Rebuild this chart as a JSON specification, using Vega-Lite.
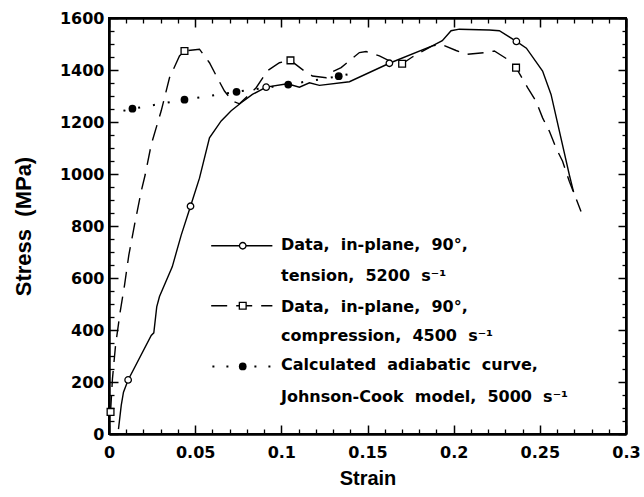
{
  "$schema": "https://vega.github.io/schema/vega-lite/v6.json",
  "width": 517,
  "height": 416,
  "padding": {"left": 12, "top": 10, "right": 4, "bottom": 5},
  "config": {
    "view": {"stroke": "#000", "strokeWidth": 2}
  },
  "data": {"values": [
      {"x": 0.0055, "y": 19}, {"x": 0.0071, "y": 110}, {"x": 0.0084, "y": 161}, {"x": 0.0111, "y": 208},
      {"x": 0.0245, "y": 379}, {"x": 0.026, "y": 389}, {"x": 0.0277, "y": 489}, {"x": 0.0293, "y": 529},
      {"x": 0.0367, "y": 643}, {"x": 0.0419, "y": 765}, {"x": 0.0473, "y": 876}, {"x": 0.0525, "y": 984},
      {"x": 0.0583, "y": 1139}, {"x": 0.0651, "y": 1204}, {"x": 0.0709, "y": 1243}, {"x": 0.0767, "y": 1274},
      {"x": 0.0832, "y": 1306}, {"x": 0.0912, "y": 1334}, {"x": 0.1035, "y": 1347}, {"x": 0.1105, "y": 1334},
      {"x": 0.1163, "y": 1351}, {"x": 0.1221, "y": 1341}, {"x": 0.1395, "y": 1355}, {"x": 0.1627, "y": 1426},
      {"x": 0.1876, "y": 1493}, {"x": 0.1934, "y": 1513}, {"x": 0.1985, "y": 1551}, {"x": 0.2033, "y": 1557},
      {"x": 0.2207, "y": 1554}, {"x": 0.2265, "y": 1551}, {"x": 0.2364, "y": 1510}, {"x": 0.2422, "y": 1484},
      {"x": 0.2516, "y": 1396}, {"x": 0.2565, "y": 1306}, {"x": 0.2671, "y": 997}, {"x": 0.2696, "y": 930}
  ]},
  "layer": [
    {
      "mark": {"type": "point", "opacity": 0},
      "encoding": {
        "x": {"field": "x", "type": "quantitative", "scale": {"domain": [0, 0.3], "nice": false, "zero": false},
          "axis": {"orient": "bottom", "values": [0, 0.05, 0.1, 0.15, 0.2, 0.25, 0.3], "format": "~g", "tickSize": -9, "tickWidth": 1.5, "tickColor": "#000", "grid": false,
            "domainColor": "#000", "domainWidth": 2, "labelColor": "#000", "labelFont": "DejaVu Sans", "labelFontWeight": "bold", "labelFontSize": 16, "labelPadding": 19,
            "labelFlush": false, "labelOverlap": false, "title": "Strain", "titleColor": "#000", "titleFont": "Liberation Sans", "titleFontSize": 20,
            "titleFontWeight": "bold", "titlePadding": 8}},
        "y": {"field": "y", "type": "quantitative", "scale": {"domain": [0, 1600], "nice": false},
          "axis": {"orient": "left", "values": [0, 200, 400, 600, 800, 1000, 1200, 1400, 1600], "format": "d", "tickSize": -9, "tickWidth": 1.5, "tickColor": "#000", "grid": false,
            "domainColor": "#000", "domainWidth": 2, "labelColor": "#000", "labelFont": "DejaVu Sans", "labelFontWeight": "bold", "labelFontSize": 16, "labelPadding": 14,
            "labelOverlap": false, "labelFlush": false, "title": "Stress \u00a0(MPa)", "titleColor": "#000", "titleFont": "Liberation Sans", "titleFontSize": 22,
            "titleFontWeight": "bold", "titlePadding": 24}}
      }
    },
    {
      "mark": {"type": "point", "opacity": 0},
      "encoding": {
        "x": {"field": "x", "type": "quantitative", "scale": {"domain": [0, 0.3], "nice": false, "zero": false},
          "axis": {"orient": "top", "values": [0, 0.05, 0.1, 0.15, 0.2, 0.25, 0.3], "labels": false, "tickSize": -9, "tickWidth": 1.5, "tickColor": "#000", "domainColor": "#000", "domainWidth": 2, "title": null}},
        "y": {"field": "y", "type": "quantitative", "scale": {"domain": [0, 1600], "nice": false},
          "axis": {"orient": "right", "values": [0, 200, 400, 600, 800, 1000, 1200, 1400, 1600], "labels": false, "tickSize": -8, "tickWidth": 1.5, "tickColor": "#000", "domainColor": "#000", "domainWidth": 2, "title": null}}
      }
    },
    {
      "mark": {"type": "point", "opacity": 0},
      "encoding": {
        "x": {"field": "x", "type": "quantitative", "scale": {"domain": [0, 0.3], "nice": false, "zero": false},
          "axis": {"orient": "bottom", "values": [0.01, 0.02, 0.03, 0.04, 0.06, 0.07, 0.08, 0.09, 0.11, 0.12, 0.13, 0.14, 0.16, 0.17, 0.18, 0.19, 0.21, 0.22, 0.23, 0.24, 0.26, 0.27, 0.28, 0.29],
            "labels": false, "tickSize": -5, "tickWidth": 1.3, "tickColor": "#000", "domainColor": "#000", "domainWidth": 2, "title": null}},
        "y": {"field": "y", "type": "quantitative", "scale": {"domain": [0, 1600], "nice": false},
          "axis": {"orient": "left", "values": [50, 100, 150, 250, 300, 350, 450, 500, 550, 650, 700, 750, 850, 900, 950, 1050, 1100, 1150, 1250, 1300, 1350, 1450, 1500, 1550],
            "labels": false, "tickSize": -5, "tickWidth": 1.3, "tickColor": "#000", "domainColor": "#000", "domainWidth": 2, "title": null}}
      }
    },
    {
      "mark": {"type": "line", "stroke": "#000", "strokeWidth": 1.4},
      "encoding": {
        "x": {"field": "x", "type": "quantitative",
          "axis": {"orient": "top", "values": [0.01, 0.02, 0.03, 0.04, 0.06, 0.07, 0.08, 0.09, 0.11, 0.12, 0.13, 0.14, 0.16, 0.17, 0.18, 0.19, 0.21, 0.22, 0.23, 0.24, 0.26, 0.27, 0.28, 0.29],
            "labels": false, "tickSize": -5, "tickWidth": 1.3, "tickColor": "#000", "domainColor": "#000", "domainWidth": 2, "title": null}},
        "y": {"field": "y", "type": "quantitative",
          "axis": {"orient": "right", "values": [50, 100, 150, 250, 300, 350, 450, 500, 550, 650, 700, 750, 850, 900, 950, 1050, 1100, 1150, 1250, 1300, 1350, 1450, 1500, 1550],
            "labels": false, "tickSize": -4, "tickWidth": 1.3, "tickColor": "#000", "domainColor": "#000", "domainWidth": 2, "title": null}}
      }
    },
    {
      "data": {"values": [
        {"x": 0.0009, "y": 85}, {"x": 0.002, "y": 212}, {"x": 0.0038, "y": 341}, {"x": 0.0065, "y": 471},
        {"x": 0.009, "y": 572}, {"x": 0.0115, "y": 688}, {"x": 0.0148, "y": 804}, {"x": 0.0187, "y": 934},
        {"x": 0.021, "y": 997}, {"x": 0.0245, "y": 1113}, {"x": 0.0303, "y": 1243}, {"x": 0.0351, "y": 1370},
        {"x": 0.0409, "y": 1454}, {"x": 0.0438, "y": 1473}, {"x": 0.0525, "y": 1480}, {"x": 0.0583, "y": 1428},
        {"x": 0.0622, "y": 1378}, {"x": 0.067, "y": 1319}, {"x": 0.0718, "y": 1280}, {"x": 0.0757, "y": 1270},
        {"x": 0.0854, "y": 1332}, {"x": 0.0919, "y": 1397}, {"x": 0.0989, "y": 1428}, {"x": 0.1053, "y": 1437},
        {"x": 0.1134, "y": 1396}, {"x": 0.118, "y": 1377}, {"x": 0.126, "y": 1370}, {"x": 0.1296, "y": 1393},
        {"x": 0.1347, "y": 1409}, {"x": 0.1453, "y": 1467}, {"x": 0.1492, "y": 1471}, {"x": 0.1569, "y": 1454},
        {"x": 0.1627, "y": 1435}, {"x": 0.1701, "y": 1424}, {"x": 0.176, "y": 1450}, {"x": 0.1876, "y": 1493},
        {"x": 0.1927, "y": 1499}, {"x": 0.2014, "y": 1475}, {"x": 0.2072, "y": 1460}, {"x": 0.2188, "y": 1467},
        {"x": 0.2236, "y": 1473}, {"x": 0.2313, "y": 1441}, {"x": 0.2362, "y": 1409}, {"x": 0.2429, "y": 1332},
        {"x": 0.2478, "y": 1280}, {"x": 0.2516, "y": 1216}, {"x": 0.2555, "y": 1165}, {"x": 0.2594, "y": 1100},
        {"x": 0.2632, "y": 1049}, {"x": 0.2671, "y": 972}, {"x": 0.2739, "y": 856}
      ]},
      "mark": {"type": "line", "stroke": "#000", "strokeWidth": 1.4, "strokeDash": [16, 9]},
      "encoding": {
        "x": {"field": "x", "type": "quantitative", "axis": null},
        "y": {"field": "y", "type": "quantitative", "axis": null}
      }
    },
    {
      "data": {"values": [
        {"x": 0.0084, "y": 1243}, {"x": 0.0136, "y": 1251}, {"x": 0.0438, "y": 1286}, {"x": 0.074, "y": 1316},
        {"x": 0.104, "y": 1344}, {"x": 0.1333, "y": 1376}, {"x": 0.1412, "y": 1387}
      ]},
      "mark": {"type": "line", "stroke": "#000", "strokeWidth": 2, "strokeDash": [2, 13]},
      "encoding": {
        "x": {"field": "x", "type": "quantitative", "axis": null},
        "y": {"field": "y", "type": "quantitative", "axis": null}
      }
    },
    {
      "data": {"values": [{"x": 0.0593, "y": 724}, {"x": 0.0948, "y": 724}]},
      "mark": {"type": "line", "stroke": "#000", "strokeWidth": 1.4},
      "encoding": {
        "x": {"field": "x", "type": "quantitative", "axis": null},
        "y": {"field": "y", "type": "quantitative", "axis": null}
      }
    },
    {
      "data": {"values": [{"x": 0.0593, "y": 493}, {"x": 0.0948, "y": 493}]},
      "mark": {"type": "line", "stroke": "#000", "strokeWidth": 1.4, "strokeDash": [16, 9]},
      "encoding": {
        "x": {"field": "x", "type": "quantitative", "axis": null},
        "y": {"field": "y", "type": "quantitative", "axis": null}
      }
    },
    {
      "data": {"values": [{"x": 0.0600, "y": 260}, {"x": 0.0948, "y": 260}]},
      "mark": {"type": "line", "stroke": "#000", "strokeWidth": 2, "strokeDash": [2, 12]},
      "encoding": {
        "x": {"field": "x", "type": "quantitative", "axis": null},
        "y": {"field": "y", "type": "quantitative", "axis": null}
      }
    },
    {
      "data": {"values": [
        {"x": 0.0111, "y": 208}, {"x": 0.0473, "y": 876}, {"x": 0.0912, "y": 1334}, {"x": 0.1627, "y": 1426}, {"x": 0.2364, "y": 1510},
        {"x": 0.0776, "y": 724}
      ]},
      "mark": {"type": "point", "shape": "circle", "filled": true, "fill": "white", "stroke": "#000", "strokeWidth": 1.3, "size": 42, "opacity": 1},
      "encoding": {
        "x": {"field": "x", "type": "quantitative", "axis": null},
        "y": {"field": "y", "type": "quantitative", "axis": null}
      }
    },
    {
      "data": {"values": [
        {"x": 0.0009, "y": 85}, {"x": 0.0438, "y": 1473}, {"x": 0.1053, "y": 1437}, {"x": 0.1701, "y": 1424}, {"x": 0.2362, "y": 1409},
        {"x": 0.0776, "y": 493}
      ]},
      "mark": {"type": "point", "shape": "square", "filled": true, "fill": "white", "stroke": "#000", "strokeWidth": 1.3, "size": 46, "opacity": 1},
      "encoding": {
        "x": {"field": "x", "type": "quantitative", "axis": null},
        "y": {"field": "y", "type": "quantitative", "axis": null}
      }
    },
    {
      "data": {"values": [
        {"x": 0.0136, "y": 1251}, {"x": 0.0438, "y": 1286}, {"x": 0.074, "y": 1316}, {"x": 0.104, "y": 1344}, {"x": 0.1333, "y": 1376},
        {"x": 0.0776, "y": 260}
      ]},
      "mark": {"type": "point", "shape": "circle", "filled": true, "fill": "#000", "strokeWidth": 0, "size": 60, "opacity": 1},
      "encoding": {
        "x": {"field": "x", "type": "quantitative", "axis": null},
        "y": {"field": "y", "type": "quantitative", "axis": null}
      }
    },
    {
      "data": {"values": [
        {"x": 0.0998, "y": 706, "t": "Data, \u00a0in-plane, \u00a090°,"},
        {"x": 0.0998, "y": 587, "t": "tension, \u00a05200 \u00a0s⁻¹"},
        {"x": 0.0998, "y": 471, "t": "Data, \u00a0in-plane, \u00a090°,"},
        {"x": 0.0998, "y": 356, "t": "compression, \u00a04500 \u00a0s⁻¹"},
        {"x": 0.0998, "y": 246, "t": "Calculated \u00a0adiabatic \u00a0curve,"},
        {"x": 0.0998, "y": 125, "t": "Johnson-Cook \u00a0model, \u00a05000 \u00a0s⁻¹"}
      ]},
      "mark": {"type": "text", "align": "left", "baseline": "alphabetic", "font": "DejaVu Sans", "fontWeight": "bold", "fontSize": 16, "color": "#000"},
      "encoding": {
        "x": {"field": "x", "type": "quantitative", "axis": null},
        "y": {"field": "y", "type": "quantitative", "axis": null},
        "text": {"field": "t", "type": "nominal"}
      }
    }
  ],
  "resolve": {"axis": {"x": "independent", "y": "independent"}}
}
